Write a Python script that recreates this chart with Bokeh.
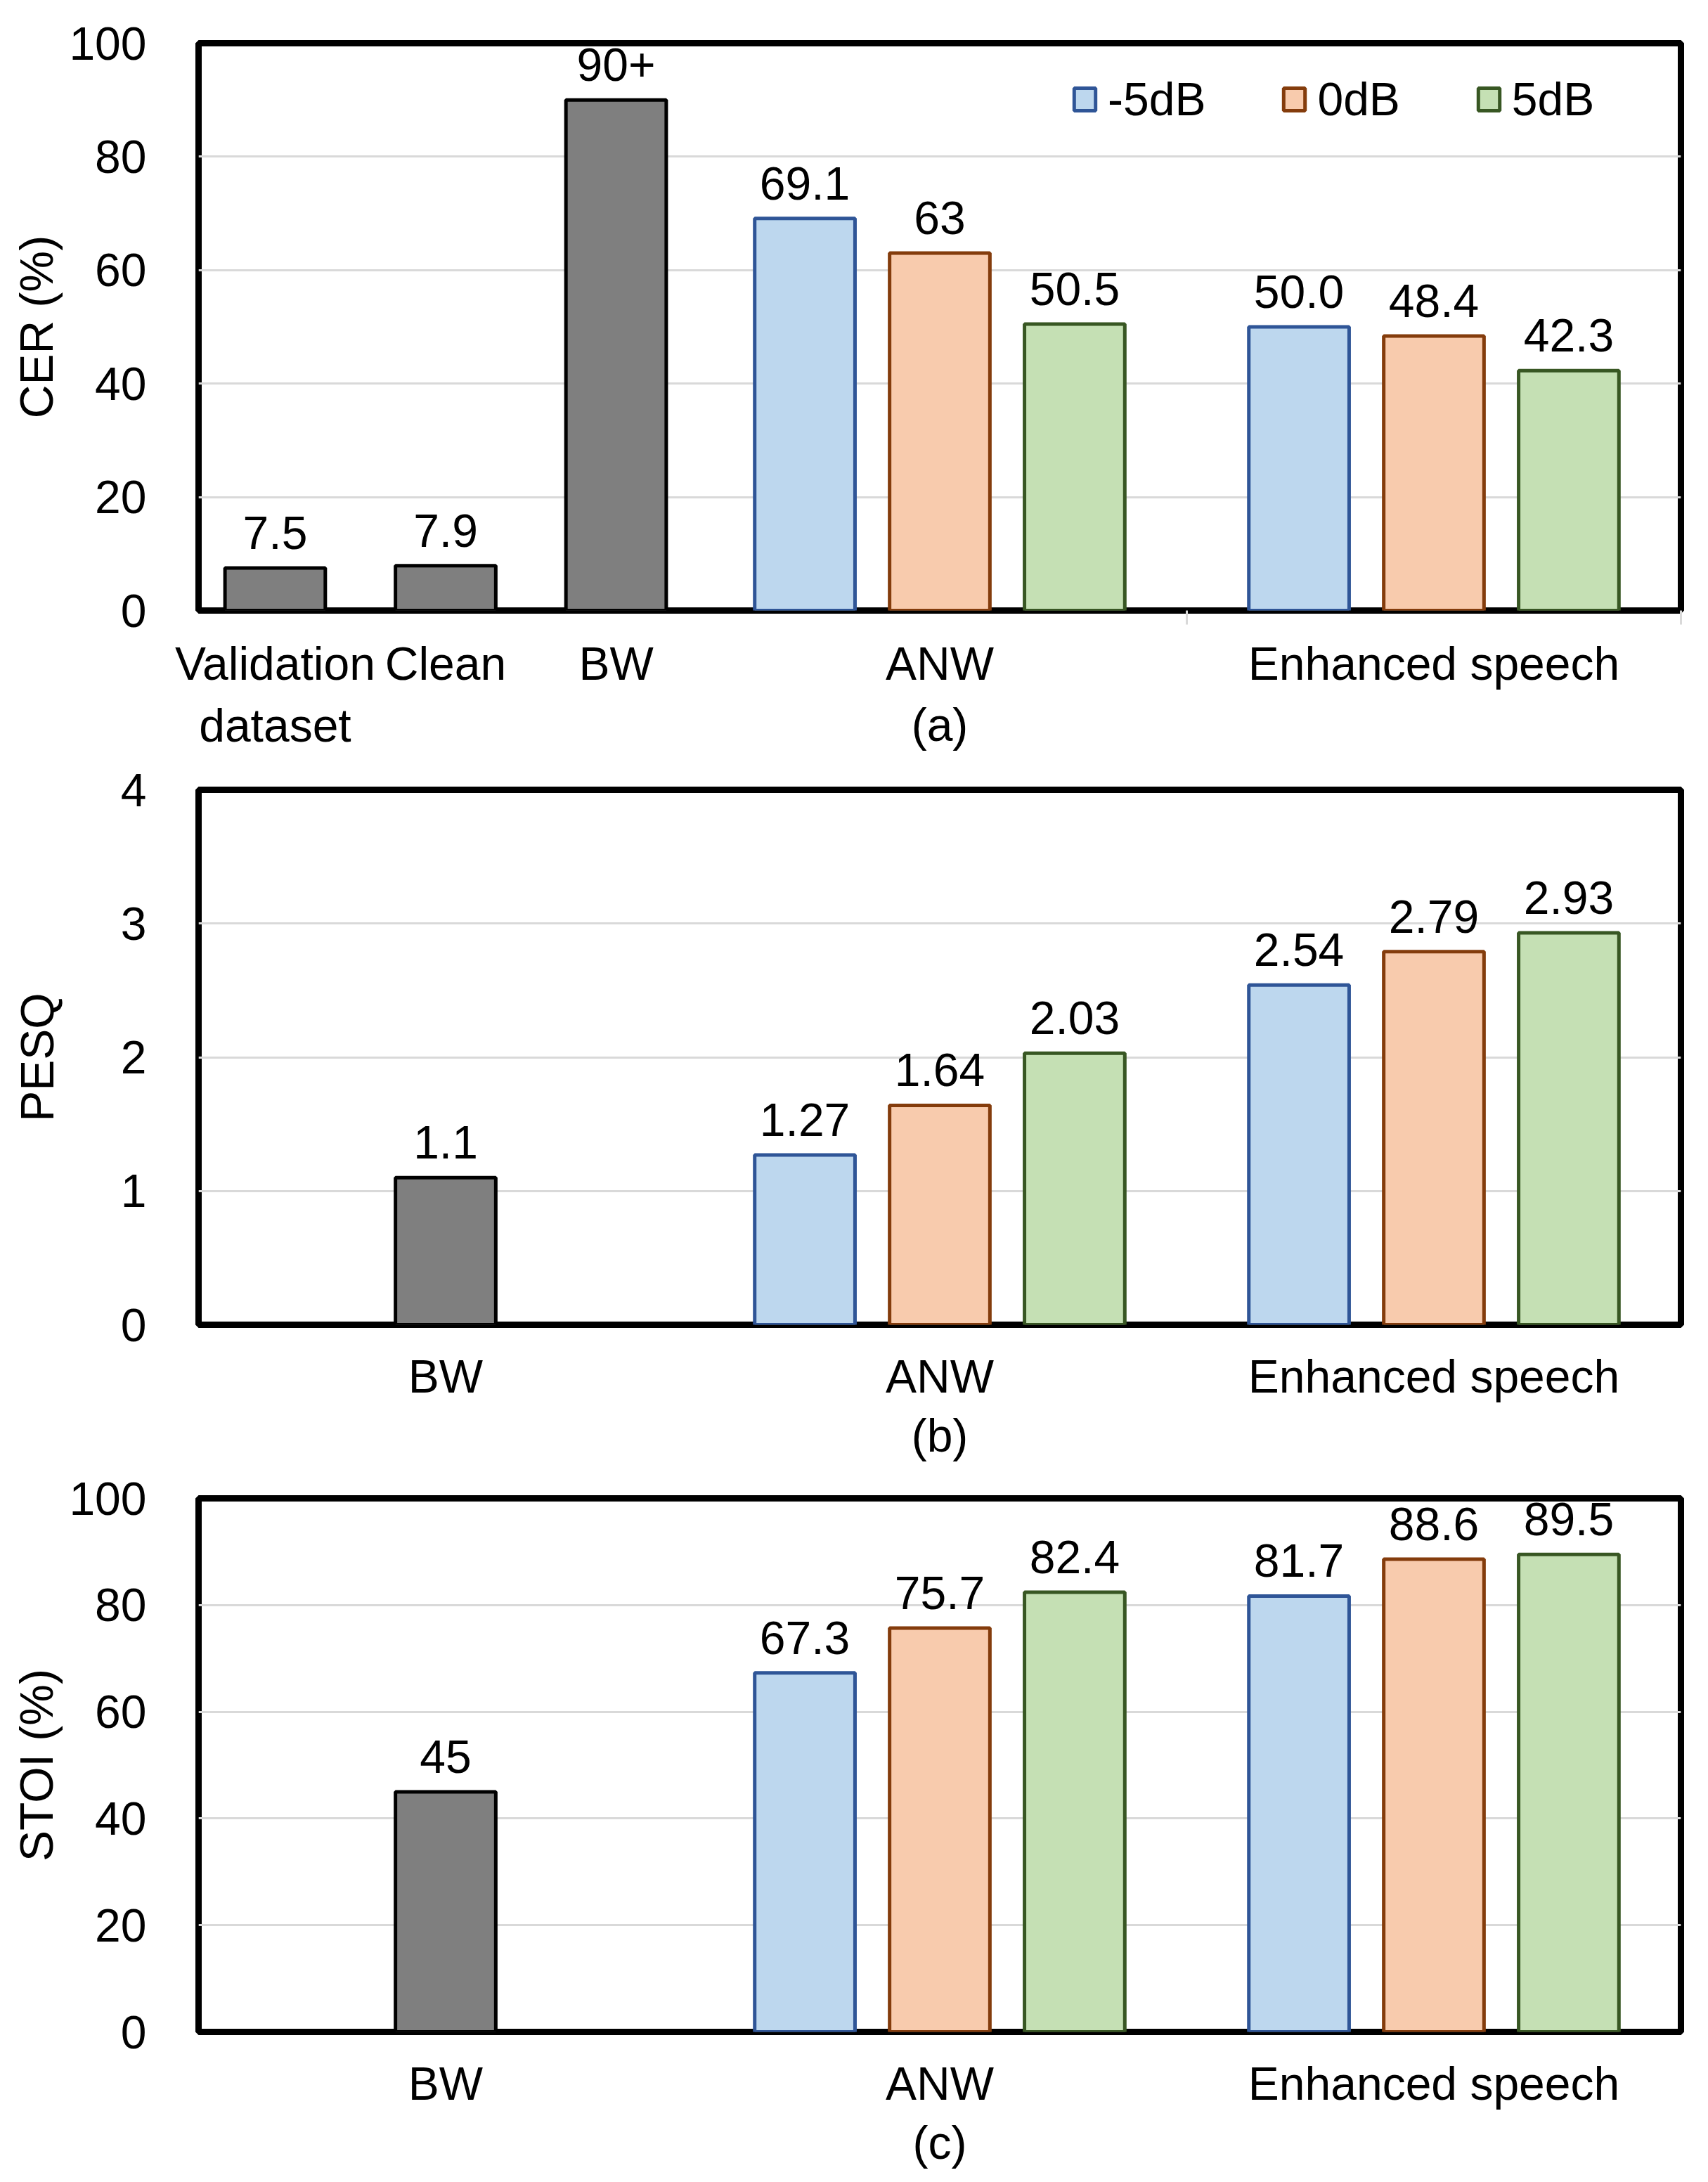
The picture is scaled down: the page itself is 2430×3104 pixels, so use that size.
from bokeh.plotting import figure
from bokeh.models import Range1d, FixedTicker, Legend, LegendItem, ColumnDataSource
from bokeh.layouts import column
from bokeh.embed import file_html
from bokeh.resources import INLINE
from bokeh.core.properties import value

# ---------------- data ----------------
snr_levels = ["-5dB", "0dB", "5dB"]
group_names = ["ANW", "Enhanced speech"]

cer_single_names = ["Validation\ndataset", "Clean", "BW"]
cer_single = [7.5, 7.9, 90.0]
cer_single_text = ["7.5", "7.9", "90+"]
cer_anw = [69.1, 63.0, 50.5]
cer_anw_text = ["69.1", "63", "50.5"]
cer_enh = [50.0, 48.4, 42.3]
cer_enh_text = ["50.0", "48.4", "42.3"]

pesq_single_names = ["BW"]
pesq_single = [1.1]
pesq_single_text = ["1.1"]
pesq_anw = [1.27, 1.64, 2.03]
pesq_anw_text = ["1.27", "1.64", "2.03"]
pesq_enh = [2.54, 2.79, 2.93]
pesq_enh_text = ["2.54", "2.79", "2.93"]

stoi_single_names = ["BW"]
stoi_single = [45.0]
stoi_single_text = ["45"]
stoi_anw = [67.3, 75.7, 82.4]
stoi_anw_text = ["67.3", "75.7", "82.4"]
stoi_enh = [81.7, 88.6, 89.5]
stoi_enh_text = ["81.7", "88.6", "89.5"]

cer_ticks = [0, 20, 40, 60, 80, 100]
pesq_ticks = [0, 1, 2, 3, 4]
stoi_ticks = [0, 20, 40, 60, 80, 100]

# ---------------- style / layout ----------------
FONT = "Liberation Sans"
FS = "66px"
GRAY = "#7F7F7F"
FILLS = ["#BDD7EE", "#F8CBAD", "#C5E0B4"]
LINES = ["#2F5597", "#843C0C", "#385723"]
UNIT = 1000                      # x units per category group
GROUP_CENTERS = [500, 1500, 2500]
SNR_OFFSETS = [-273, 0, 273]
FIRST3_OFFSETS = [-345, 0, 345]
BAR_W = 203
FIG_W = 2414
LABEL_OFFSET = -50


def make_panel(ylabel, ymax, yticks, s_names, s_vals, s_text, anw, anw_t, enh, enh_t,
               caption, height, btop, bbot, ylab_standoff, cap_standoff, legend=False):
    p = figure(width=FIG_W, height=height, x_range=Range1d(0, 3 * UNIT),
               y_range=Range1d(0, ymax), output_backend="svg", toolbar_location=None,
               title=None,
               min_border_left=282, min_border_right=23, min_border_top=btop,
               min_border_bottom=bbot)
    p.background_fill_color = "white"
    p.border_fill_color = "white"
    p.outline_line_color = "black"
    p.outline_line_width = 9
    p.xgrid.visible = False
    p.ygrid.grid_line_color = "#D9D9D9"
    p.ygrid.grid_line_width = 3

    # single (gray) bars
    if len(s_vals) == 3:
        sx = [GROUP_CENTERS[0] + o for o in FIRST3_OFFSETS]
    else:
        sx = [GROUP_CENTERS[0]]
    src = ColumnDataSource(dict(x=sx, top=s_vals, t=s_text))
    p.vbar(x="x", top="top", bottom=0, width=BAR_W, source=src, fill_color=GRAY,
           line_color="black", line_width=5)
    p.text(x="x", y="top", text="t", source=src, text_align="center",
           text_baseline="alphabetic", y_offset=LABEL_OFFSET, text_font=value(FONT),
           text_font_size=value(FS), text_color="black")

    renderers = []
    for i, snr in enumerate(snr_levels):
        xs = [GROUP_CENTERS[1] + SNR_OFFSETS[i], GROUP_CENTERS[2] + SNR_OFFSETS[i]]
        srs = ColumnDataSource(dict(x=xs, top=[anw[i], enh[i]], t=[anw_t[i], enh_t[i]]))
        r = p.vbar(x="x", top="top", bottom=0, width=BAR_W, source=srs,
                   fill_color=FILLS[i], line_color=LINES[i], line_width=5)
        p.text(x="x", y="top", text="t", source=srs, text_align="center",
               text_baseline="alphabetic", y_offset=LABEL_OFFSET, text_font=value(FONT),
               text_font_size=value(FS), text_color="black")
        renderers.append(r)

    # x axis: category labels
    ticks = sx + [GROUP_CENTERS[1], GROUP_CENTERS[2]]
    names = list(s_names) + group_names
    if legend:
        p.xaxis.ticker = FixedTicker(ticks=ticks, minor_ticks=[2 * UNIT, 3 * UNIT])
        label_standoff = 18
    else:
        p.xaxis.ticker = FixedTicker(ticks=ticks)
        label_standoff = 30
    p.xaxis.major_label_overrides = {t: n for t, n in zip(ticks, names)}
    p.xaxis.axis_line_color = None
    p.xaxis.major_tick_line_color = None
    p.xaxis.minor_tick_line_color = "#D9D9D9"
    p.xaxis.minor_tick_line_width = 3
    p.xaxis.minor_tick_in = 0
    p.xaxis.minor_tick_out = 20
    p.xaxis.major_label_standoff = label_standoff
    p.xaxis.major_label_text_font = FONT
    p.xaxis.major_label_text_font_size = FS
    p.xaxis.major_label_text_color = "black"
    p.xaxis.axis_label = caption
    p.xaxis.axis_label_text_font = FONT
    p.xaxis.axis_label_text_font_size = FS
    p.xaxis.axis_label_text_font_style = "normal"
    p.xaxis.axis_label_text_color = "black"
    p.xaxis.axis_label_standoff = cap_standoff

    # y axis
    p.yaxis.ticker = FixedTicker(ticks=yticks)
    p.yaxis.axis_line_color = None
    p.yaxis.major_tick_line_color = None
    p.yaxis.minor_tick_line_color = None
    p.yaxis.major_label_standoff = 68
    p.yaxis.major_label_text_font = FONT
    p.yaxis.major_label_text_font_size = FS
    p.yaxis.major_label_text_color = "black"
    p.yaxis.axis_label = ylabel
    p.yaxis.axis_label_text_font = FONT
    p.yaxis.axis_label_text_font_size = FS
    p.yaxis.axis_label_text_font_style = "normal"
    p.yaxis.axis_label_text_color = "black"
    p.yaxis.axis_label_standoff = ylab_standoff

    if legend:
        items = [LegendItem(label=snr_levels[i], renderers=[renderers[i]]) for i in range(3)]
        lg = Legend(items=items, orientation="horizontal", location=(1242, 689),
                    glyph_width=38, glyph_height=40, label_standoff=14, spacing=107,
                    padding=0, margin=0, border_line_alpha=0, background_fill_alpha=0,
                    label_text_font=FONT, label_text_font_size=FS,
                    label_text_color="black")
        p.add_layout(lg)
    return p


pa = make_panel("CER (%)", 100, cer_ticks, cer_single_names, cer_single, cer_single_text,
                cer_anw, cer_anw_text, cer_enh, cer_enh_text, "(a)",
                1088, 61, 220, 6, -78, legend=True)
pb = make_panel("PESQ", 4, pesq_ticks, pesq_single_names, pesq_single, pesq_single_text,
                pesq_anw, pesq_anw_text, pesq_enh, pesq_enh_text, "(b)",
                1010, 35, 214, 79, 7)
pc = make_panel("STOI (%)", 100, stoi_ticks, stoi_single_names, stoi_single, stoi_single_text,
                stoi_anw, stoi_anw_text, stoi_enh, stoi_enh_text, "(c)",
                998, 33, 206, 6, 7)

layout = column(pa, pb, pc)
open("out.html", "w").write(file_html(layout, INLINE))
